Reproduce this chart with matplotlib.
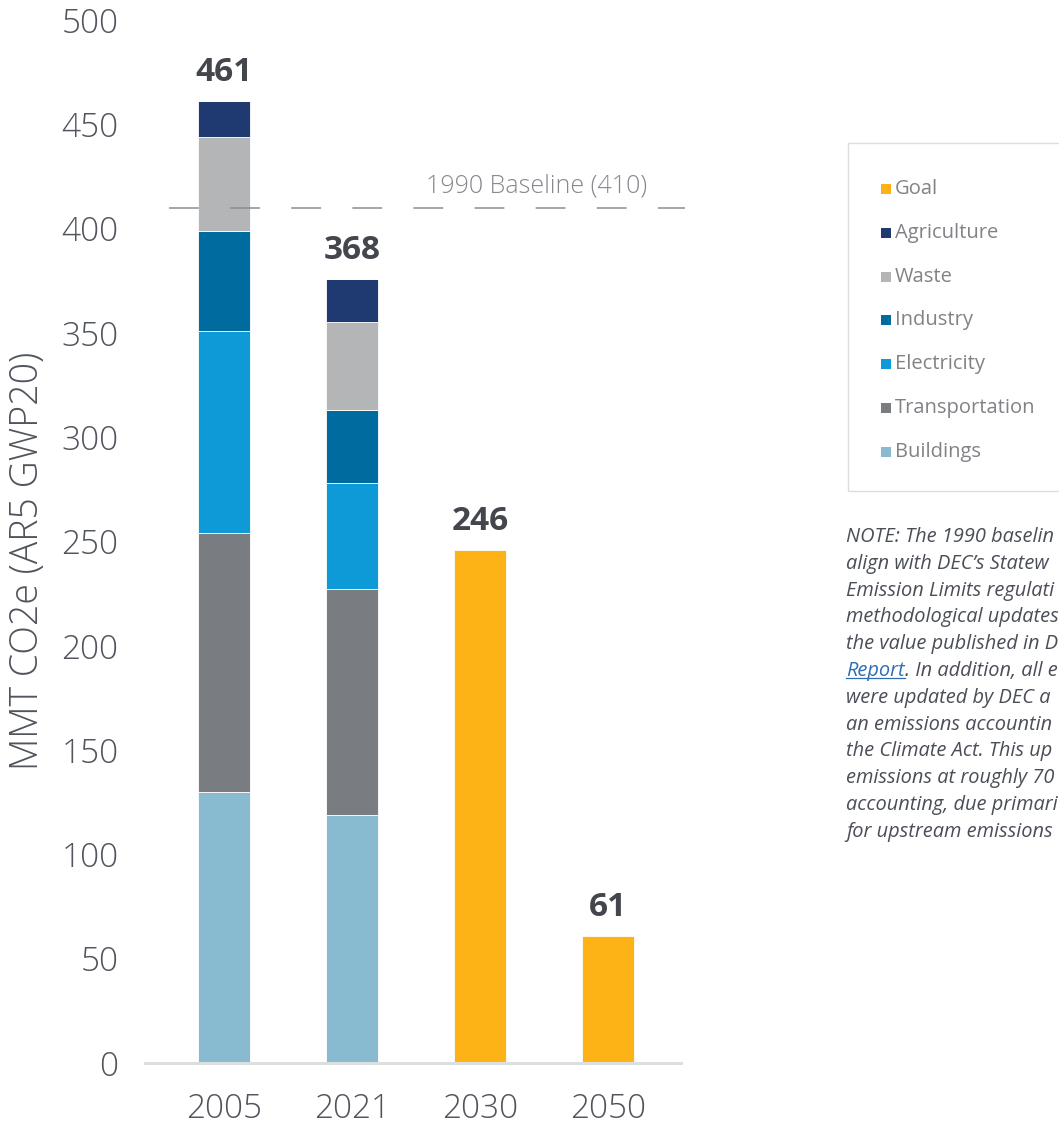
import matplotlib
matplotlib.use("Agg")
import matplotlib.pyplot as plt
from matplotlib.patches import Rectangle
import numpy as np

plt.rcParams['font.family'] = ['Open Sans', 'DejaVu Sans']

years = ["2005", "2021", "2030", "2050"]
sectors = ["Buildings", "Transportation", "Electricity", "Industry", "Waste", "Agriculture"]
buildings      = [130, 119, 0, 0]
transportation = [124, 108, 0, 0]
electricity    = [97, 51, 0, 0]
industry       = [48, 35, 0, 0]
waste          = [45, 42, 0, 0]
agriculture    = [17, 21, 0, 0]
goal           = [0, 0, 246, 61]
total_labels   = ["461", "368", "246", "61"]
baseline_value = 410
baseline_label = "1990 Baseline (410)"
yticks = [0, 50, 100, 150, 200, 250, 300, 350, 400, 450, 500]
legend_names = ["Goal", "Agriculture", "Waste", "Industry", "Electricity",
                "Transportation", "Buildings"]
# the note is cut off by the right edge in the reference; visible part only
note_lines = [
    "NOTE: The 1990 baselin",
    "align with DEC\u2019s Statew",
    "Emission Limits regulati",
    "methodological updates",
    "the value published in D",
    None,
    "were updated by DEC a",
    "an emissions accountin",
    "the Climate Act. This up",
    "emissions at roughly 70",
    "accounting, due primari",
    "for upstream emissions",
]
note_link = "Report"
note_link_rest = ". In addition, all e"

colors = {
    "Buildings": "#88BBD0",
    "Transportation": "#797C80",
    "Electricity": "#0E9AD6",
    "Industry": "#006B9F",
    "Waste": "#B3B5B7",
    "Agriculture": "#1F3A70",
    "Goal": "#FDB316",
}

W, H = 1059, 1126
fig = plt.figure(figsize=(W / 100, H / 100), dpi=100)
ax = fig.add_axes([145 / W, 1 - 1063 / H, (681 - 145) / W, (1063 - 20) / H])

x = np.arange(len(years))
width = 0.406
series = [buildings, transportation, electricity, industry, waste, agriculture]
bottom = np.zeros(len(years))
for name, vals in zip(sectors, series):
    v = np.array(vals, dtype=float)
    ax.bar(x, v, width, bottom=bottom, color=colors[name], edgecolor="white",
           linewidth=0.6, zorder=2)
    bottom += v
g = np.array(goal, dtype=float)
ax.bar(x, g, width, bottom=bottom, color=colors["Goal"], edgecolor="white",
       linewidth=0.6, zorder=2)
bottom += g

for xi, top, lab in zip(x, bottom, total_labels):
    ax.annotate(lab, (xi, top), xytext=(0, 14.5), textcoords="offset points",
                ha="center", va="baseline", fontsize=24, fontweight="bold",
                color="#43464d")

# baseline
ax.plot([-0.43, 3.6], [baseline_value, baseline_value], color="#8a8d91",
        linewidth=1.1, linestyle=(0, (19.5, 20.5)), clip_on=False, zorder=3)
ax.text(2.44, baseline_value + 4.5, baseline_label, ha="center", va="bottom",
        fontsize=18, color="#85888d", fontweight="light")

ax.set_xlim(-0.617, 3.568)
ax.set_ylim(0, 500)
ax.set_xticks(x)
ax.set_xticklabels(years)
ax.set_yticks(yticks)
ax.tick_params(axis="both", length=0, labelsize=24, labelcolor="#50545c")
ax.tick_params(axis="y", pad=19)
ax.tick_params(axis="x", pad=21)
for lab in ax.get_xticklabels() + ax.get_yticklabels():
    lab.set_fontweight("light")
for s in ["left", "right", "top"]:
    ax.spines[s].set_visible(False)
ax.spines["bottom"].set_color("#dcdfdf")
ax.spines["bottom"].set_linewidth(2.2)

fig.text(28 / W, 1 - 561 / H, "MMT CO2e (AR5 GWP20)", rotation=90,
         ha="center", va="center", fontsize=27, color="#50545c",
         fontweight="light")

# legend box (manual, extends past right edge as in the reference)
fig.patches.append(Rectangle((848 / W, 1 - 491 / H), 300 / W, (491 - 143) / H,
                             transform=fig.transFigure, facecolor="white",
                             edgecolor="#dddddd", linewidth=1.0))
for i, name in enumerate(legend_names):
    yc = 189 + i * 43.8
    fig.patches.append(Rectangle((881 / W, 1 - (yc + 5) / H), 10 / W, 10 / H,
                                 transform=fig.transFigure,
                                 facecolor=colors[name], edgecolor="none"))
    fig.text(895 / W, 1 - yc / H, name, ha="left", va="center",
             fontsize=14.5, color="#808286")

# note
note_style = dict(ha="left", va="center", fontsize=14.4, style="italic",
                  color="#4a4e57")
fig.canvas.draw()
renderer = fig.canvas.get_renderer()
for i, line in enumerate(note_lines):
    yc = 537 + i * 26.8
    if line is not None:
        fig.text(846 / W, 1 - yc / H, line, **note_style)
    else:
        t = fig.text(846 / W, 1 - yc / H, note_link,
                     **dict(note_style, color="#2f6db5"))
        bb = t.get_window_extent(renderer)
        fig.add_artist(plt.Line2D([bb.x0 / W, bb.x1 / W],
                                  [(bb.y0 + 3) / H, (bb.y0 + 3) / H],
                                  transform=fig.transFigure, color="#2f6db5",
                                  linewidth=0.9))
        fig.text(bb.x1 / W, 1 - yc / H, note_link_rest, **note_style)

fig.savefig("out.png", dpi=100)
